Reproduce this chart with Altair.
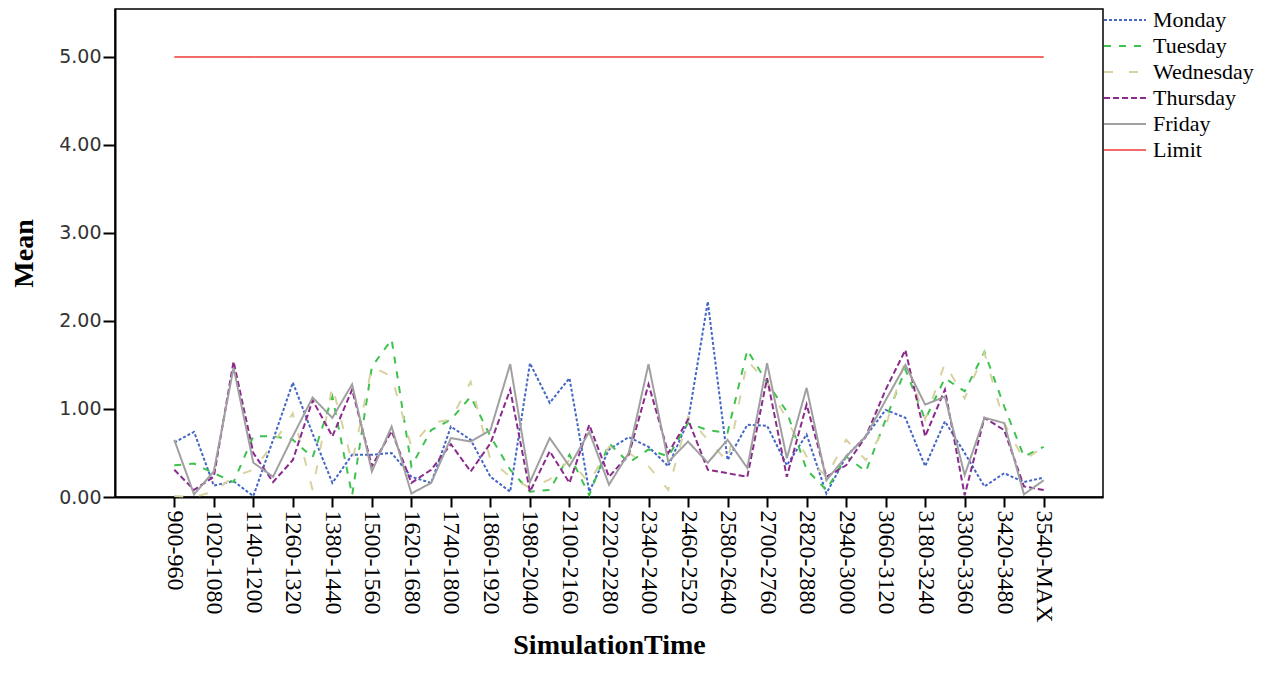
import altair as alt
import pandas as pd

cats = ["900-960", "960-1020", "1020-1080", "1080-1140", "1140-1200", "1200-1260",
        "1260-1320", "1320-1380", "1380-1440", "1440-1500", "1500-1560", "1560-1620",
        "1620-1680", "1680-1740", "1740-1800", "1800-1860", "1860-1920", "1920-1980",
        "1980-2040", "2040-2100", "2100-2160", "2160-2220", "2220-2280", "2280-2340",
        "2340-2400", "2400-2460", "2460-2520", "2520-2580", "2580-2640", "2640-2700",
        "2700-2760", "2760-2820", "2820-2880", "2880-2940", "2940-3000", "3000-3060",
        "3060-3120", "3120-3180", "3180-3240", "3240-3300", "3300-3360", "3360-3420",
        "3420-3480", "3480-3540", "3540-MAX"]

tick_labels = ["900-960", "1020-1080", "1140-1200", "1260-1320", "1380-1440", "1500-1560",
               "1620-1680", "1740-1800", "1860-1920", "1980-2040", "2100-2160", "2220-2280",
               "2340-2400", "2460-2520", "2580-2640", "2700-2760", "2820-2880", "2940-3000",
               "3060-3120", "3180-3240", "3300-3360", "3420-3480", "3540-MAX"]

monday = [0.62, 0.74, 0.13, 0.18, 0.01, 0.65, 1.30, 0.72, 0.16, 0.48,
          0.48, 0.50, 0.23, 0.16, 0.80, 0.65, 0.23, 0.06, 1.52, 1.07,
          1.35, 0.06, 0.54, 0.68, 0.57, 0.35, 0.86, 2.22, 0.42, 0.82,
          0.81, 0.36, 0.71, 0.04, 0.46, 0.69, 0.99, 0.90, 0.35, 0.86,
          0.50, 0.12, 0.27, 0.17, 0.22]
tuesday = [0.36, 0.38, 0.27, 0.17, 0.69, 0.69, 0.65, 0.45, 1.14, 0.02,
           1.48, 1.79, 0.35, 0.76, 0.88, 1.14, 0.69, 0.31, 0.06, 0.08,
           0.48, 0.02, 0.61, 0.39, 0.54, 0.46, 0.84, 0.76, 0.73, 1.67,
           1.30, 0.97, 0.31, 0.08, 0.46, 0.29, 0.88, 1.45, 0.88, 1.35,
           1.20, 1.65, 1.03, 0.46, 0.57]
wednesday = [0.01, 0.00, 0.06, 0.23, 0.31, 0.60, 0.95, 0.08, 1.26, 0.39,
             1.48, 1.37, 0.57, 0.84, 0.88, 1.31, 0.42, 0.23, 0.10, 0.20,
             0.42, 0.16, 0.57, 0.50, 0.35, 0.08, 0.91, 0.65, 0.40, 1.55,
             1.30, 0.88, 0.46, 0.23, 0.65, 0.42, 0.80, 1.56, 0.88, 1.52,
             1.12, 1.64, 0.84, 0.42, 0.57]
thursday = [0.31, 0.08, 0.23, 1.54, 0.50, 0.17, 0.42, 1.10, 0.69, 1.22,
            0.35, 0.75, 0.16, 0.31, 0.60, 0.29, 0.61, 1.22, 0.06, 0.52,
            0.16, 0.82, 0.23, 0.48, 1.28, 0.50, 0.88, 0.31, 0.27, 0.23,
            1.35, 0.23, 1.05, 0.23, 0.36, 0.69, 1.22, 1.67, 0.69, 1.22,
            0.02, 0.90, 0.76, 0.12, 0.08]
friday = [0.65, 0.03, 0.29, 1.47, 0.39, 0.23, 0.69, 1.13, 0.90, 1.28,
          0.29, 0.80, 0.04, 0.16, 0.67, 0.63, 0.76, 1.51, 0.17, 0.67,
          0.35, 0.74, 0.14, 0.50, 1.51, 0.40, 0.63, 0.39, 0.65, 0.33,
          1.52, 0.44, 1.24, 0.19, 0.46, 0.69, 1.10, 1.50, 1.05, 1.14,
          0.25, 0.90, 0.84, 0.03, 0.19]
limit_value = 5.00

names = ["Monday", "Tuesday", "Wednesday", "Thursday", "Friday", "Limit"]
colors = ["#4466c4", "#3ec24e", "#d8d2a0", "#8a2a8c", "#a0a0a0", "#f26a6a"]
dashes = [[3, 2], [7, 8], [9, 16], [6, 3], [1, 0], [1, 0]]

series = {
    "Monday": monday,
    "Tuesday": tuesday,
    "Wednesday": wednesday,
    "Thursday": thursday,
    "Friday": friday,
    "Limit": [limit_value] * len(cats),
}

rows = []
for name in names:
    for i, (c, v) in enumerate(zip(cats, series[name])):
        rows.append({"idx": i, "time": c, "mean": v, "series": name})
df = pd.DataFrame(rows)

# tick positions (category indices) of the labelled categories
tick_idx = [cats.index(t) for t in tick_labels]
label_lookup = "{" + ",".join("'%d':'%s'" % (cats.index(t), t) for t in tick_labels) + "}"
label_expr = label_lookup + "[''+datum.value]"

legend = alt.Legend(
    title=None, orient="none", legendX=995, legendY=-4,
    symbolType="M-1.5,0L1.5,0", symbolSize=784, symbolStrokeWidth=2,
    symbolFillColor="transparent",
    labelFont="Liberation Serif", labelFontSize=22, labelColor="black",
    labelOffset=13, rowPadding=0, padding=0,
)

chart = alt.Chart(df).mark_line(strokeWidth=2).encode(
    x=alt.X("idx:Q", title="SimulationTime",
            scale=alt.Scale(domain=[-3, len(cats) + 2], nice=False, zero=False),
            axis=alt.Axis(values=tick_idx, labelExpr=label_expr, labelAngle=90,
                          labelAlign="left", labelBaseline="middle",
                          labelFont="Liberation Serif", labelFontSize=24,
                          labelColor="black", labelOverlap=False, labelFlush=False,
                          tickSize=10, labelPadding=3, titleFont="Liberation Serif",
                          titleFontSize=28, titleFontWeight="bold", titleColor="black",
                          titleY=156, titleBaseline="alphabetic")),
    y=alt.Y("mean:Q", title="Mean",
            scale=alt.Scale(domain=[0, 5.545], nice=False, zero=True),
            axis=alt.Axis(values=[0, 1, 2, 3, 4, 5], format=".2f",
                          labelFont="DejaVu Sans", labelFontSize=19, labelColor="#333333",
                          tickSize=12, labelPadding=2, titleFont="Liberation Serif",
                          titleFontSize=28, titleFontWeight="bold", titleColor="black",
                          titleX=-91, titleY=244, titleAngle=270, titleAlign="center",
                          titleBaseline="middle")),
    color=alt.Color("series:N", scale=alt.Scale(domain=names, range=colors), legend=legend),
    strokeDash=alt.StrokeDash("series:N", scale=alt.Scale(domain=names, range=dashes), legend=legend),
).properties(
    width=988, height=488,
    autosize=alt.AutoSizeParams(type="none"),
    padding={"left": 107, "top": 1, "right": 165, "bottom": 164},
).configure_view(
    stroke="black", strokeWidth=1.5
).configure_axis(
    grid=False, domainColor="black", domainWidth=2, tickColor="black", tickWidth=2
)

chart.save("out.html", embed_options={"renderer": "svg", "actions": False})
